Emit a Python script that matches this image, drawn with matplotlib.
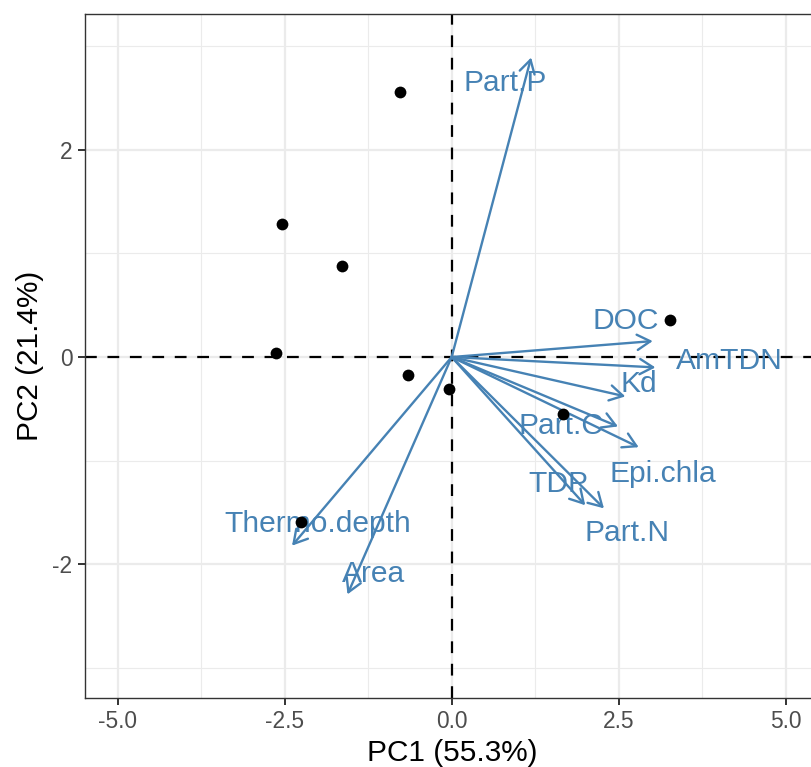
import numpy as np
import matplotlib.pyplot as plt

plt.rcParams['font.family'] = ['Liberation Sans', 'DejaVu Sans']

# Sample scores (PC1, PC2)
score_pc1 = [-0.78, -2.54, -1.64, -2.63, -0.65, -0.045, 1.67, 3.27, -2.25]
score_pc2 = [2.56, 1.28, 0.88, 0.035, -0.17, -0.31, -0.55, 0.36, -1.59]

# Variable loadings (arrow tips) and label positions
var_names = ["Part.P", "DOC", "AmTDN", "Kd", "Part.C", "Epi.chla",
             "TDP", "Part.N", "Thermo.depth", "Area"]
load_pc1 = [1.19, 3.01, 3.05, 2.60, 2.49, 2.80, 2.00, 2.28, -2.39, -1.56]
load_pc2 = [2.89, 0.154, -0.10, -0.38, -0.67, -0.87, -1.43, -1.46, -1.82, -2.29]
label_pc1 = [0.80, 2.61, 4.16, 2.80, 1.64, 3.16, 1.60, 2.63, -2.00, -1.17]
label_pc2 = [2.64, 0.35, -0.035, -0.265, -0.665, -1.13, -1.225, -1.695, -1.615, -2.09]

x_ticks = [-5.0, -2.5, 0.0, 2.5, 5.0]
y_ticks = [-2, 0, 2]

arrow_col = "#4682B4"
grid_col = "#EBEBEB"
border_col = "#333333"

fig = plt.figure(figsize=(8.11, 7.67), dpi=100)
# panel runs past the right edge of the picture, as in the reference
ax = fig.add_axes([85 / 811, 69 / 767, 734 / 811, 684 / 767])

ax.set_xlim(-5.49, 5.50)
ax.set_ylim(-3.29, 3.31)

# grid
for v in [-3.75, -1.25, 1.25, 3.75]:
    ax.axvline(v, color=grid_col, lw=0.8, zorder=0)
for v in [-3, -1, 1, 3]:
    ax.axhline(v, color=grid_col, lw=0.8, zorder=0)
for v in x_ticks:
    ax.axvline(v, color=grid_col, lw=1.6, zorder=0)
for v in y_ticks:
    ax.axhline(v, color=grid_col, lw=1.6, zorder=0)

# reference lines
for line in [ax.axhline(0, color="black", lw=1.6, zorder=1),
             ax.axvline(0, color="black", lw=1.6, zorder=1)]:
    line.set_dashes((5.3, 4.8))

# labels
for name, x, y in zip(var_names, label_pc1, label_pc2):
    ax.text(x, y, name, color=arrow_col, fontsize=21.6,
            ha="center", va="center", zorder=3)

# arrows
for x, y in zip(load_pc1, load_pc2):
    ax.annotate("", xy=(x, y), xytext=(0, 0),
                arrowprops=dict(arrowstyle="->,head_length=0.95,head_width=0.55",
                                color=arrow_col, lw=1.7, shrinkA=0, shrinkB=0,
                                mutation_scale=10),
                zorder=4)

# points on top
ax.scatter(score_pc1, score_pc2, s=72, color="black", zorder=5, linewidths=0)

ax.set_xticks(x_ticks)
ax.set_xticklabels(["%.1f" % v for v in x_ticks])
ax.set_yticks(y_ticks)
ax.set_yticklabels([str(v) for v in y_ticks])
ax.tick_params(axis="both", length=5, width=1.4, color=border_col,
               labelsize=16.4, labelcolor="#4D4D4D", pad=4)

for sp in ax.spines.values():
    sp.set_color(border_col)
    sp.set_linewidth(1.0)

ax.set_xlabel("PC1 (55.3%)", fontsize=21.4, labelpad=4)
ax.set_ylabel("PC2 (21.4%)", fontsize=21.4, labelpad=6)

fig.savefig("out.png", dpi=100)
